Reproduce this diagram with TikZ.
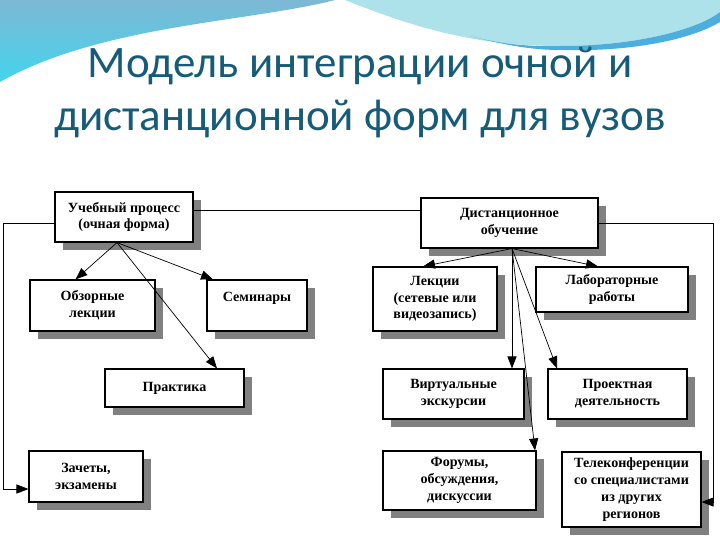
\documentclass[tikz,border=0pt]{standalone}
\usepackage{fontspec}
\newfontfamily\titlefont{Carlito}
\newfontfamily\boxfont{Liberation Serif}
\usetikzlibrary{arrows.meta,positioning,calc,shadows}
\definecolor{TitleTeal}{HTML}{165C78}
\definecolor{WaveBlue}{HTML}{7DB8D4}
\definecolor{WaveCyan}{HTML}{44D4EC}
\definecolor{WaveLight}{HTML}{AEE2EA}
\definecolor{WaveStripe}{HTML}{4BAEDC}
\definecolor{ShadowGray}{HTML}{808080}
\tikzset{
  blok/.style    = {draw, line width=0.8pt, fill=white, align=center,
                    font=\boxfont\bfseries\fontsize{10}{12}\selectfont,
                    inner sep=2pt,
                    drop shadow={shadow xshift=0.2cm, shadow yshift=-0.2cm,
                                 fill=ShadowGray, opacity=1}},
  strelka/.style = {-{Triangle[length=8.5pt,width=6.5pt]}, line width=0.5pt},
  liniya/.style  = {line width=0.5pt},
  zagolovok/.style = {font=\titlefont\fontsize{32}{37}\selectfont,
                      text=TitleTeal, align=center},
}

\begin{document}
\begin{tikzpicture}[x=0.025cm,y=-0.025cm]
  \useasboundingbox (0,0) rectangle (720,540);
  % волна сверху
  \shade[top color=WaveBlue, bottom color=WaveCyan]
    (0,0) -- (335,0) .. controls (250,22) and (100,25) .. (0,82) -- cycle;
  \fill[WaveLight]
    (345,0) .. controls (420,30) and (480,46) .. (560,46)
            .. controls (640,46) and (700,28) .. (720,12) -- (720,0) -- cycle;
  \fill[WaveStripe]
    (470,36) .. controls (500,44) and (530,47) .. (560,46)
             .. controls (640,46) and (700,28) .. (720,12) -- (720,22)
             .. controls (690,40) and (630,52) .. (560,50)
             .. controls (530,50) and (500,44) .. (470,36) -- cycle;
  \node[zagolovok, anchor=base] (title) at (360,130)
    {Модель интеграции очной и\\дистанционной форм для вузов};

  % очная форма
  \node[blok, minimum width=3.45cm, minimum height=1.25cm] (up) at (124,217)
    {Учебный процесс\\(очная форма)};
  \node[blok, minimum width=3.125cm, minimum height=1.275cm] (ol) at (92.5,305.5)
    {Обзорные\\лекции};
  \node[blok, minimum width=2.5cm, minimum height=1.275cm] (sem) at (257,305.5)
    {Семинары\\\mbox{}};
  \node[blok, minimum width=3.475cm, minimum height=0.95cm] (pr) at (174.5,388)
    {Практика};
  \node[blok, minimum width=2.85cm, minimum height=1.275cm] (ze) at (86,476.5)
    {Зачеты,\\экзамены};

  % дистанционная форма
  \node[blok, minimum width=4.425cm, minimum height=1.25cm] (do) at (509.5,223)
    {Дистанционное\\обучение};
  \node[blok, minimum width=3.1cm, minimum height=1.6cm] (le) at (435,299)
    {Лекции\\(сетевые или\\видеозапись)};
  \node[blok, minimum width=3.8cm, minimum height=1.125cm] (lab) at (612,289.5)
    {Лабораторные\\работы};
  \node[blok, minimum width=3.525cm, minimum height=1.25cm] (vi) at (453.5,394)
    {Виртуальные\\экскурсии};
  \node[blok, minimum width=3.475cm, minimum height=1.25cm] (pa) at (617.5,394)
    {Проектная\\деятельность};
  \node[blok, minimum width=3.825cm, minimum height=1.475cm] (fo) at (459.5,480.5)
    {Форумы,\\обсуждения,\\дискуссии};
  \node[blok, minimum width=3.475cm, minimum height=1.875cm] (te) at (631.5,489.5)
    {Телеконференции\\со специалистами\\из других\\регионов};

  % связи
  \draw[strelka] ($(up.south)+(-7,0)$) -- ($(ol.north)+(-17,0)$);
  \draw[strelka] ($(up.south)+(-7,0)$) -- ($(sem.north)+(-44,0)$);
  \draw[strelka] ($(up.south)+(-7,0)$) -- ($(pr.north)+(42.5,0)$);
  \draw[strelka] ($(up.west)+(0,6)$) -| ($(ze.west)+(-25,12.5)$) -- ($(ze.west)+(0,12.5)$);
  \draw[liniya] ($(up.east)+(0,-7)$) -- ($(do.west)+(0,-13)$);
  \draw[strelka] (do.east) -| ($(te.east)+(12,12.5)$) -- ($(te.east)+(0,12.5)$);
  \draw[strelka] ($(do.south)+(2.5,0)$) -- ($(le.north)+(-12,0)$);
  \draw[strelka] ($(do.south)+(2.5,0)$) -- ($(lab.north)+(-14,0)$);
  \draw[strelka] ($(do.south)+(2.5,0)$) -- ($(vi.north)+(58.5,0)$);
  \draw[strelka] ($(do.south)+(2.5,0)$) -- ($(fo.north)+(75.5,0)$);
  \draw[strelka] ($(do.south)+(2.5,0)$) -- ($(pa.north)+(-60.5,0)$);
\end{tikzpicture}
\end{document}
